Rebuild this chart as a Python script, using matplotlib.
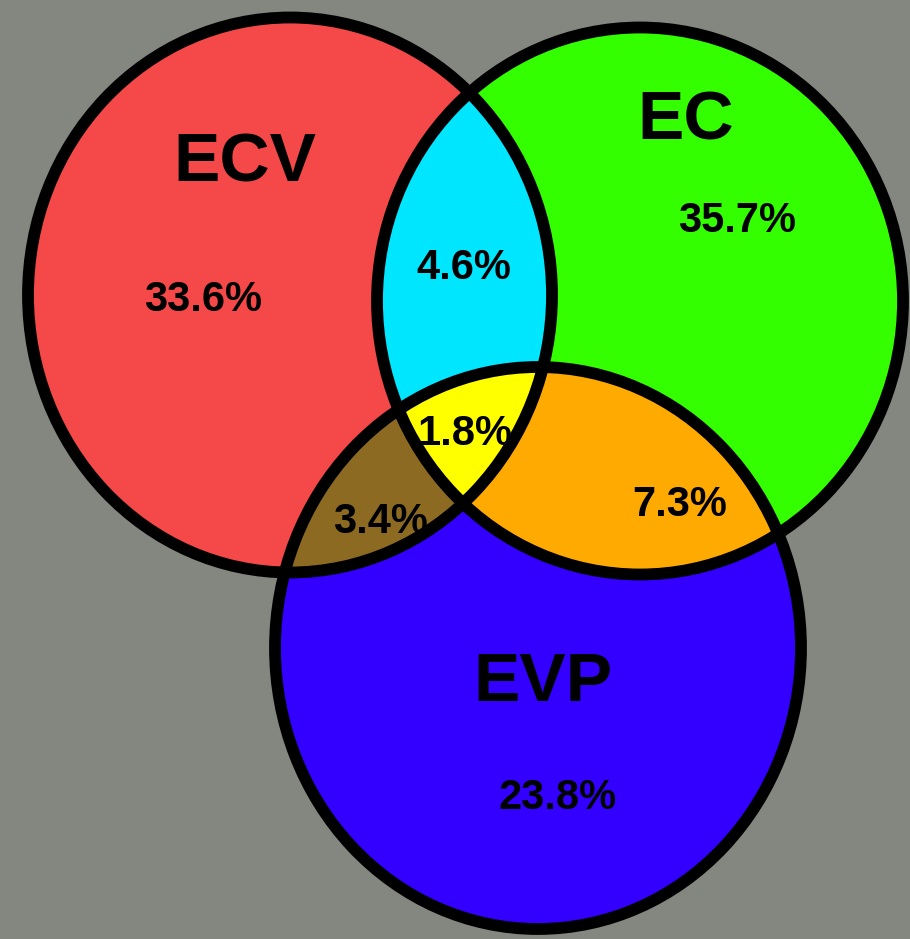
import numpy as np
import matplotlib.pyplot as plt
from matplotlib.patches import Ellipse, Polygon

# set names, colours and shares
sets = ['ECV', 'EC', 'EVP']
set_colors = ['#f54848', '#33ff00', '#3300ff']
only_pct = ['33.6%', '35.7%', '23.8%']
pair_names = ['ECV&EC', 'ECV&EVP', 'EC&EVP']
pair_colors = ['#00e6ff', '#8c6a22', '#ffaa00']
pair_pct = ['4.6%', '3.4%', '7.3%']
all_pct = '1.8%'
all_color = '#ffff00'

# ellipse geometry in pixel coords (centre x, centre y, width, height)
centers = [(290, 295), (640, 301), (538, 648)]
sizes = [(524, 555), (526, 547), (526, 562)]

name_pos = [(245, 163), (686, 122), (543, 683)]
only_pos = [(203, 300), (737, 221), (558, 798)]
pair_pos = [(464, 268), (380, 522), (680, 505)]
all_pos = (465, 434)

fig = plt.figure(figsize=(9.1, 9.39), dpi=100)
fig.patch.set_facecolor('#848680')
ax = fig.add_axes([0, 0, 1, 1])
ax.set_xlim(0, 910)
ax.set_ylim(939, 0)
ax.axis('off')


def ell(i, **kw):
    return Ellipse(centers[i], sizes[i][0], sizes[i][1], transform=ax.transData, **kw)


def inside(i, x, y):
    cx, cy = centers[i]
    w, h = sizes[i]
    return ((x - cx) / (w / 2)) ** 2 + ((y - cy) / (h / 2)) ** 2 <= 1


# plain sets
for i in range(3):
    ax.add_patch(ell(i, facecolor=set_colors[i], edgecolor='none', zorder=1))

# pairwise overlaps: one ellipse clipped by the other
pairs = [(0, 1), (0, 2), (1, 2)]
for (a, b), c in zip(pairs, pair_colors):
    p = ell(b, facecolor=c, edgecolor='none', zorder=2)
    ax.add_patch(p)
    p.set_clip_path(ell(a))

# triple overlap as convex polygon from boundary samples
t = np.linspace(0, 2 * np.pi, 3000)
pts = []
for i in range(3):
    cx, cy = centers[i]
    w, h = sizes[i]
    x = cx + w / 2 * np.cos(t)
    y = cy + h / 2 * np.sin(t)
    others = [j for j in range(3) if j != i]
    m = inside(others[0], x, y) & inside(others[1], x, y)
    pts.append(np.column_stack([x[m], y[m]]))
pts = np.vstack(pts)
c0 = pts.mean(axis=0)
order = np.argsort(np.arctan2(pts[:, 1] - c0[1], pts[:, 0] - c0[0]))
ax.add_patch(Polygon(pts[order], closed=True, facecolor=all_color,
                     edgecolor='none', zorder=3))

# outlines
for i in range(3):
    ax.add_patch(ell(i, facecolor='none', edgecolor='black', lw=8.5, zorder=4))

font = 'Liberation Sans'
for name, (x, y) in zip(sets, name_pos):
    ax.text(x, y, name, fontsize=50, fontweight='bold', family=font,
            ha='center', va='center', zorder=5)
for s, (x, y) in zip(only_pct + pair_pct, only_pos + pair_pos):
    ax.text(x, y, s, fontsize=30, fontweight='bold', family=font,
            ha='center', va='center', zorder=5)
ax.text(all_pos[0], all_pos[1], all_pct, fontsize=30, fontweight='bold',
        family=font, ha='center', va='center', zorder=5)

fig.savefig('out.png', dpi=100, facecolor=fig.get_facecolor())
